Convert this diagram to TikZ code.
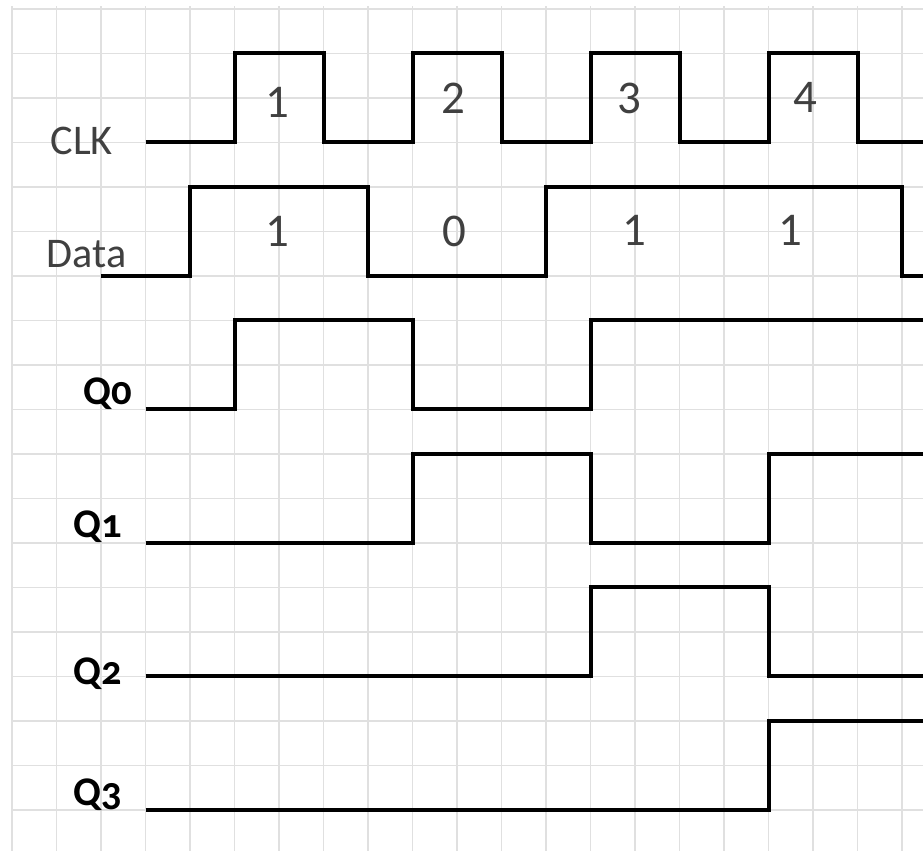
\documentclass[tikz,border=0pt]{standalone}
\usepackage{fontspec}
\setmainfont{Carlito}
\newfontfamily\qfont[Numbers=OldStyle]{Carlito}
\usepackage{tikz}
\usetikzlibrary{positioning}
\definecolor{gridgray}{RGB}{224,224,224}
\definecolor{textgray}{RGB}{64,64,64}

\begin{document}
\begin{tikzpicture}[x=1cm, y=1cm,
    wave/.style={line width=2.6pt, black},
    sig/.style={anchor=base east, inner sep=0pt, text=textgray, font=\fontsize{27}{27}\selectfont},
    qsig/.style={anchor=base east, inner sep=0pt, font=\qfont\bfseries\fontsize{26}{26}\selectfont},
    bit/.style={inner sep=0pt, text=textgray, font=\fontsize{30}{30}\selectfont}]

    \useasboundingbox (-0.27,0.2) rectangle (20.47,-18.92);
    \fill [white] (-0.27,0.2) rectangle (20.47,-18.92);

    % Grid
    \draw [gridgray, line width=1pt] (0,0.07) grid (20.47,-18.92);

    % Signal names
    \node [sig] (clk) at (2.27,-3.28) {CLK};
    \node [sig] (data) at (2.58,-5.80) {Data};
    \node [qsig] (q0) at (2.70,-8.90) {Q0};
    \node [qsig] (q1) at (2.47,-11.87) {Q1};
    \node [qsig] (q2) at (2.47,-15.19) {Q2};
    \node [qsig] (q3) at (2.47,-17.89) {Q3};

    % Clock
    \draw [wave] (3,-3) foreach \t in {5,9,13,17} { -- (\t,-3) -- (\t,-1) -- (\t+2,-1) -- (\t+2,-3) } -- (20.47,-3);
    \node [bit] (c1) at (5.97,-2.10) {1};
    \node [bit] (c2) at (9.91,-2.00) {2};
    \node [bit] (c3) at (13.87,-2.02) {3};
    \node [bit] (c4) at (17.82,-2.00) {4};

    % Data
    \draw [wave] (2,-6) -- (4,-6) -- (4,-4) -- (8,-4) -- (8,-6) -- (12,-6) -- (12,-4) -- (20,-4) -- (20,-6) -- (20.47,-6);
    \node [bit] (d1) at (5.97,-5.01) {1};
    \node [bit] (d2) at (9.95,-5.00) {0};
    \node [bit] (d3) at (13.98,-4.97) {1};
    \node [bit] (d4) at (17.50,-4.97) {1};

    % Shift register outputs
    \draw [wave] (3,-9) -- (5,-9) -- (5,-7) -- (9,-7) -- (9,-9) -- (13,-9) -- (13,-7) -- (20.47,-7);
    \draw [wave] (3,-12) -- (9,-12) -- (9,-10) -- (13,-10) -- (13,-12) -- (17,-12) -- (17,-10) -- (20.47,-10);
    \draw [wave] (3,-15) -- (13,-15) -- (13,-13) -- (17,-13) -- (17,-15) -- (20.47,-15);
    \draw [wave] (3,-18) -- (17,-18) -- (17,-16) -- (20.47,-16);

\end{tikzpicture}
\end{document}
